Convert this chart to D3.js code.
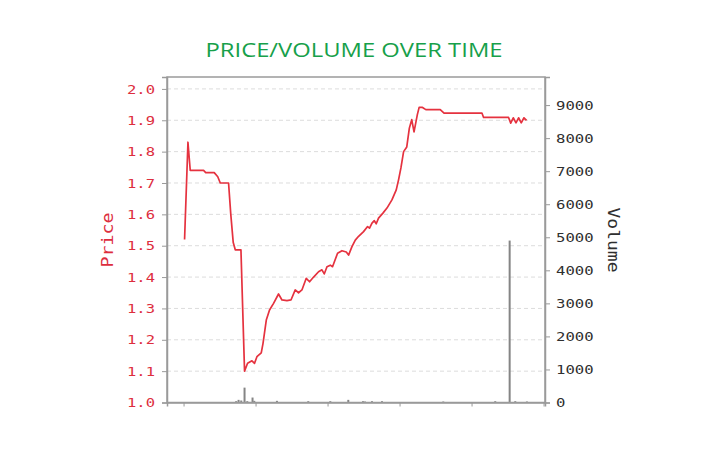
<!DOCTYPE html>
<html>
<head>
<meta charset="utf-8">
<script src="https://cdn.jsdelivr.net/npm/d3@7"></script>
<style>
  html, body { margin: 0; padding: 0; background: #ffffff; }
  svg { display: block; }
</style>
</head>
<body>
<div id="chart"></div>
<script>
// ---- data (x in time units, ticks every 10 units) ----
const priceT = [0.14,0.61,0.93,2.78,3.08,4.26,4.75,5.10,6.25,6.56,6.90,7.18,7.97,8.47,8.89,9.50,9.86,10.19,10.79,11.03,11.49,11.94,12.50,13.19,13.67,14.36,14.92,15.51,15.97,16.44,17.04,17.50,18.06,18.75,19.22,19.54,19.92,20.38,20.69,21.39,22.00,22.60,22.92,23.39,23.85,24.31,25.00,25.56,25.83,26.17,26.49,26.76,27.08,27.69,28.25,28.94,29.54,29.86,30.19,30.56,31.00,31.36,31.69,32.01,32.47,32.72,33.19,33.65,35.65,36.18,41.44,41.67,45.14,45.44,45.79,46.17,46.53,46.90,47.28,47.64];
const priceV = [1.52,1.83,1.74,1.74,1.733,1.733,1.72,1.70,1.70,1.60,1.51,1.487,1.487,1.10,1.125,1.133,1.125,1.146,1.158,1.188,1.263,1.295,1.316,1.346,1.327,1.325,1.327,1.359,1.35,1.359,1.396,1.385,1.40,1.417,1.423,1.41,1.433,1.438,1.433,1.476,1.484,1.48,1.47,1.497,1.518,1.53,1.545,1.561,1.556,1.572,1.58,1.57,1.588,1.604,1.62,1.646,1.678,1.71,1.748,1.80,1.815,1.875,1.902,1.863,1.918,1.941,1.941,1.934,1.934,1.923,1.923,1.909,1.909,1.891,1.908,1.892,1.908,1.892,1.908,1.90];

const volT = [7.3,7.64,8.01,8.47,8.85,9.58,9.82,12.97,17.32,20.38,22.88,24.92,25.2,26.17,27.56,36.07,43.29,45.29,46.07,47.69];
const volV = [40,80,60,450,40,150,50,50,40,40,80,40,30,40,40,30,40,4900,40,30];

const priceTicks = [1.0,1.1,1.2,1.3,1.4,1.5,1.6,1.7,1.8,1.9,2.0];
const volTicks = [0,1000,2000,3000,4000,5000,6000,7000,8000,9000];
const timeTicks = [0,10,20,30,40,50];

const titleText = "PRICE/VOLUME OVER TIME";
const priceLabel = "Price";
const volLabel = "Volume";

// ---- layout ----
const W = 710, H = 456;
const L = 167, R = 545, T = 77, B = 402.5;
const red = "#dd2e3e", redLine = "#e5323f", dark = "#2f2f2f", frame = "#9a9a9a";

const svg = d3.select("#chart").append("svg").attr("width", W).attr("height", H);

svg.append("text")
  .attr("x", 354).attr("y", 57)
  .attr("text-anchor", "middle")
  .attr("font-family", "'Open Sans', Lato, sans-serif")
  .attr("font-size", 20)
  .attr("font-weight", 500)
  .attr("textLength", 297).attr("lengthAdjust", "spacingAndGlyphs")
  .attr("fill", "#17a04a")
  .text(titleText);

const x = d3.scaleLinear().domain([-2.3, 50.2]).range([L, R]);
const yP = d3.scaleLinear().domain([1.0, 2.038]).range([B, T]);
const yV = d3.scaleLinear().domain([0, 9850]).range([B, T]);

// grid
svg.append("g").selectAll("line").data(priceTicks.filter(d => d > 1.0))
  .join("line")
  .attr("x1", L).attr("x2", R)
  .attr("y1", d => yP(d)).attr("y2", d => yP(d))
  .attr("stroke", "#dcdcdc").attr("stroke-width", 1)
  .attr("stroke-dasharray", "4,3");

// volume bars
svg.append("g").selectAll("rect").data(volT.map((t, i) => ({t, v: volV[i]})))
  .join("rect")
  .attr("x", d => x(d.t) - 1)
  .attr("width", 2)
  .attr("y", d => yV(d.v))
  .attr("height", d => B - yV(d.v))
  .attr("fill", "#858585");

// price line
const pts = priceT.map((t, i) => [t, priceV[i]]);
svg.append("path")
  .datum(pts)
  .attr("fill", "none")
  .attr("stroke", redLine)
  .attr("stroke-width", 1.7)
  .attr("stroke-linejoin", "round")
  .attr("d", d3.line().x(d => x(d[0])).y(d => yP(d[1])));

// frame
svg.append("rect")
  .attr("x", L).attr("y", T).attr("width", R - L).attr("height", B - T)
  .attr("fill", "none").attr("stroke", frame).attr("stroke-width", 1.5);

// axes
const monoFont = "'DejaVu Sans Mono', monospace";
const gl = svg.append("g").attr("transform", `translate(${L},0)`)
  .call(d3.axisLeft(yP).tickValues(priceTicks).tickFormat(d3.format(".1f")).tickSize(5).tickPadding(7));
gl.select(".domain").attr("stroke", frame).attr("stroke-width", 1.5);
gl.selectAll(".tick line").attr("stroke", frame);
gl.selectAll(".tick text")
  .attr("fill", red).attr("font-family", monoFont).attr("font-size", 13)
  .attr("textLength", 28).attr("lengthAdjust", "spacingAndGlyphs");

const gr = svg.append("g").attr("transform", `translate(${R},0)`)
  .call(d3.axisRight(yV).tickValues(volTicks).tickFormat(d3.format("d")).tickSize(5).tickPadding(6));
gr.select(".domain").attr("stroke", frame).attr("stroke-width", 1.5);
gr.selectAll(".tick line").attr("stroke", frame);
gr.selectAll(".tick text")
  .attr("fill", dark).attr("font-family", monoFont).attr("font-size", 13)
  .each(function(d) {
    const n = String(d).length;
    d3.select(this).attr("textLength", n * 9.4).attr("lengthAdjust", "spacingAndGlyphs");
  });

const gb = svg.append("g").attr("transform", `translate(0,${B})`)
  .call(d3.axisBottom(x).tickValues(timeTicks).tickFormat("").tickSize(4));
gb.select(".domain").attr("stroke", frame).attr("stroke-width", 1.5);
gb.selectAll(".tick line").attr("stroke", frame);

// axis titles
svg.append("text")
  .attr("transform", "translate(113,240) rotate(-90)")
  .attr("text-anchor", "middle")
  .attr("font-family", monoFont).attr("font-size", 16)
  .attr("textLength", 55).attr("lengthAdjust", "spacingAndGlyphs")
  .attr("fill", red)
  .text(priceLabel);

svg.append("text")
  .attr("transform", "translate(608,240) rotate(90)")
  .attr("text-anchor", "middle")
  .attr("font-family", monoFont).attr("font-size", 16)
  .attr("textLength", 65).attr("lengthAdjust", "spacingAndGlyphs")
  .attr("fill", dark)
  .text(volLabel);
</script>
</body>
</html>
